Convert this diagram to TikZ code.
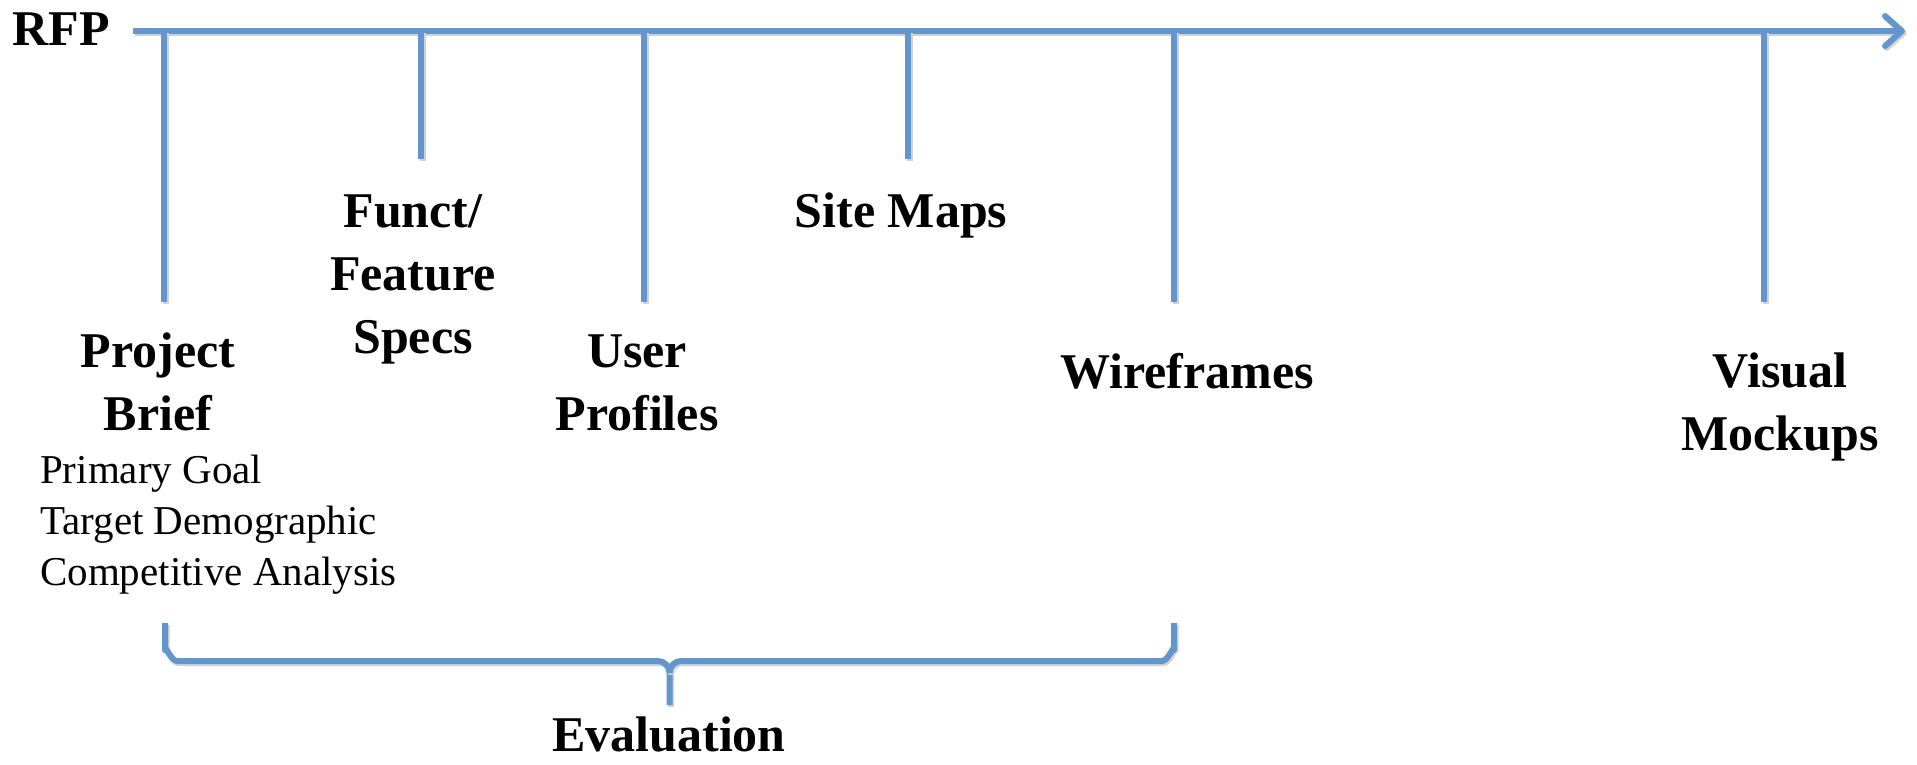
\documentclass[tikz,border=0pt]{standalone}
\usepackage{fontspec}
\setmainfont{Liberation Serif}
\usetikzlibrary{arrows.meta}
\definecolor{lineblue}{RGB}{98,150,204}
\tikzset{
  bl/.style={draw=lineblue, line width=6pt,
    preaction={draw=black!18, line width=6pt, transform canvas={shift={(1.5pt,-2pt)}}}},
  big/.style={font=\fontsize{50}{63}\selectfont\bfseries, align=center, inner sep=0pt},
  small/.style={font=\fontsize{41}{51}\selectfont, align=left, inner sep=0pt},
}
\begin{document}
\begin{tikzpicture}[x=1pt,y=-1pt]
\useasboundingbox (0,0) rectangle (1917,764);
% main timeline
\coordinate (start) at (133,31);
\coordinate (end) at (1905,31);
\draw[bl, -{Straight Barb[length=17pt,width=30pt,line cap=round,line join=round]}] (start) -- (end);
% ticks
\foreach \n/\x/\y in {1/164/302, 2/421/159, 3/644/302, 4/908/159, 5/1174/302, 6/1764/302}{
  \coordinate (t\n) at (\x,31);
  \coordinate (b\n) at (\x,\y);
  \draw[bl] (t\n) -- (b\n);
}
% labels
\node[big, anchor=base] (rfp) at (61,45) {RFP};
\node[big] (brief) at (158,382) {Project\\Brief};
\node[small, anchor=west] (sub) at (40,525) {Primary Goal\\Target Demographic\\Competitive Analysis};
\node[big] (funct) at (413,279) {Funct/\\Feature\\Specs};
\node[big] (user) at (637,383) {User\\Profiles};
\node[big] (site) at (901,215) {Site Maps};
\node[big] (wire) at (1187,371) {Wireframes};
\node[big] (visual) at (1780,407) {Visual\\Mockups};
% brace
\coordinate (bl) at (165,623);
\coordinate (br) at (1174,623);
\coordinate (bt) at (669.5,705);
\draw[bl, line join=round] (bl) -- (165,650) to[out=90,in=180] (177,661) -- (658,661) to[out=0,in=90] (669.5,673) -- (bt);
\draw[bl, line join=round] (br) -- (1174,650) to[out=90,in=0] (1162,661) -- (681,661) to[out=180,in=90] (669.5,673);
\node[big, anchor=base, text depth=0pt] (eval) at (669,751) {Evaluation};
\end{tikzpicture}
\end{document}
